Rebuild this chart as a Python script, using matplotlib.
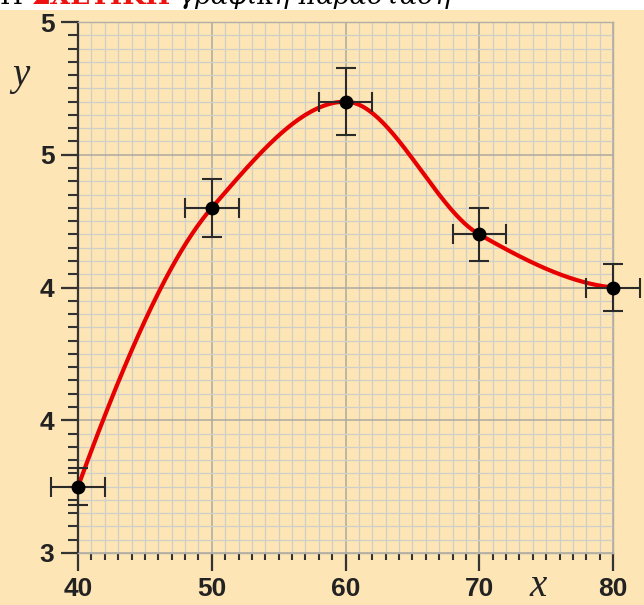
import numpy as np
import matplotlib
matplotlib.use("Agg")
import matplotlib.pyplot as plt
from matplotlib.ticker import MultipleLocator, FixedLocator, FixedFormatter

# ---- data ----
x_vals = [40, 50, 60, 70, 80]
y_vals = [3.25, 4.30, 4.70, 4.20, 4.00]
x_err = [2, 2, 2, 2, 2]
y_err = [0.07, 0.11, 0.125, 0.10, 0.09]
x_ticks = [40, 50, 60, 70, 80]
x_ticklabels = ["40", "50", "60", "70", "80"]
y_ticks = [3.0, 3.5, 4.0, 4.5, 5.0]
y_ticklabels = ["3", "4", "4", "5", "5"]
header_black1 = "Η "
header_red = "ΣΧΕΤΙΚΗ"
header_black2 = " γραφική παράσταση"


def pchip(xk, yk, xs):
    xk = np.asarray(xk, float)
    yk = np.asarray(yk, float)
    h = np.diff(xk)
    d = np.diff(yk) / h
    n = len(xk)
    m = np.zeros(n)
    for i in range(1, n - 1):
        if d[i - 1] * d[i] > 0:
            w1 = 2 * h[i] + h[i - 1]
            w2 = h[i] + 2 * h[i - 1]
            m[i] = (w1 + w2) / (w1 / d[i - 1] + w2 / d[i])
        else:
            m[i] = 0.0

    def end(h0, h1, d0, d1):
        v = ((2 * h0 + h1) * d0 - h0 * d1) / (h0 + h1)
        if np.sign(v) != np.sign(d0):
            v = 0.0
        elif np.sign(d0) != np.sign(d1) and abs(v) > abs(3 * d0):
            v = 3 * d0
        return v

    m[0] = end(h[0], h[1], d[0], d[1])
    m[-1] = end(h[-1], h[-2], d[-1], d[-2])
    ys = np.empty_like(xs)
    for j, xv in enumerate(xs):
        i = min(np.searchsorted(xk, xv, side="right") - 1, n - 2)
        i = max(i, 0)
        t = (xv - xk[i]) / h[i]
        h00 = 2 * t**3 - 3 * t**2 + 1
        h10 = t**3 - 2 * t**2 + t
        h01 = -2 * t**3 + 3 * t**2
        h11 = t**3 - t**2
        ys[j] = h00 * yk[i] + h10 * h[i] * m[i] + h01 * yk[i + 1] + h11 * h[i] * m[i + 1]
    return ys


BG = "#FDE5B6"
fig = plt.figure(figsize=(6.44, 6.05), dpi=100)
fig.patch.set_facecolor("white")
# beige panel
fig.add_artist(plt.Rectangle((0, 0), 1, 1 - 10 / 605, transform=fig.transFigure,
                             facecolor=BG, edgecolor="none", zorder=-10))

ax = fig.add_axes([78 / 644, 52 / 605, (613 - 78) / 644, (553 - 22) / 605])
ax.set_facecolor(BG)
ax.set_xlim(40, 80)
ax.set_ylim(3, 5)

ax.xaxis.set_major_locator(FixedLocator(x_ticks))
ax.xaxis.set_major_formatter(FixedFormatter(x_ticklabels))
ax.yaxis.set_major_locator(FixedLocator(y_ticks))
ax.yaxis.set_major_formatter(FixedFormatter(y_ticklabels))
ax.xaxis.set_minor_locator(MultipleLocator(1))
ax.yaxis.set_minor_locator(MultipleLocator(0.05))

ax.grid(which="minor", color="#CFCFCA", linewidth=0.9, zorder=0)
ax.grid(which="major", color="#ACA9A0", linewidth=1.1, zorder=0)
ax.set_axisbelow(True)

for s in ["top", "right", "bottom"]:
    ax.spines[s].set_color("#B0AEA6")
    ax.spines[s].set_linewidth(1.0)
ax.spines["left"].set_color("#333333")
ax.spines["left"].set_linewidth(1.6)

ax.tick_params(axis="y", which="major", direction="out", length=12, width=1.6,
               color="#333333", pad=5, labelsize=19)
ax.tick_params(axis="y", which="minor", direction="out", length=7, width=1.5,
               color="#333333")
ax.tick_params(axis="x", which="major", direction="out", length=13, width=1.6,
               color="#333333", pad=4, labelsize=19)
ax.tick_params(axis="x", which="minor", direction="out", length=5, width=1.5,
               color="#333333")
for lab in ax.get_xticklabels() + ax.get_yticklabels():
    lab.set_fontfamily("Liberation Sans")
    lab.set_fontweight("bold")
    lab.set_color("#222222")

xs = np.linspace(x_vals[0], x_vals[-1], 400)
ys = pchip(x_vals, y_vals, xs)
ax.plot(xs, ys, color="#E60000", linewidth=3.0, zorder=3, solid_capstyle="round")

ax.errorbar(x_vals, y_vals, xerr=x_err, yerr=y_err, fmt="o", color="black",
            ecolor="#2A2A2A", elinewidth=1.5, capsize=7, capthick=1.5,
            markersize=9, zorder=4, clip_on=False)

fig.text(21 / 644, 1 - 76 / 605, "y", fontsize=28, fontstyle="italic",
         family="Liberation Serif", ha="center", va="center", color="#222222")
fig.text(538 / 644, 1 - 586 / 605, "x", fontsize=28, fontstyle="italic",
         family="Liberation Serif", ha="center", va="center", color="#222222")

# header (clipped at top, as in the source image)
base = 1 - 4 / 605
t1 = fig.text(0.0, base, header_black1, fontsize=19, family="DejaVu Serif",
              ha="left", va="baseline", color="black")
fig.canvas.draw()
r = fig.canvas.get_renderer()
bb = t1.get_window_extent(r)
t2 = fig.text(bb.x1 / fig.bbox.width, base, header_red, fontsize=19,
              family="DejaVu Serif", fontweight="bold", ha="left", va="baseline",
              color="#EE1111")
bb2 = t2.get_window_extent(r)
fig.text(bb2.x1 / fig.bbox.width, base, header_black2, fontsize=19,
         family="DejaVu Serif", fontstyle="italic", ha="left", va="baseline", color="black")

fig.savefig("out.png", dpi=100, facecolor=fig.get_facecolor())
